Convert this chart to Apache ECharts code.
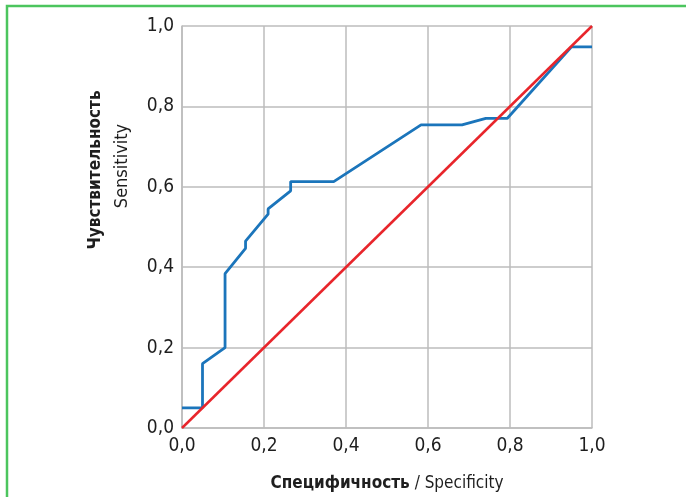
<!DOCTYPE html>
<html>
<head>
<meta charset="utf-8">
<script src="https://cdn.jsdelivr.net/npm/echarts@6/dist/echarts.min.js"></script>
<style>
  html, body { margin: 0; padding: 0; background: #fff; }
  #chart { width: 686px; height: 497px; }
</style>
</head>
<body>
<div id="chart"></div>
<script>
// ROC curve points (1 - specificity on x, sensitivity on y)
var specificity = [0, 0.05, 0.05, 0.105, 0.105, 0.155, 0.155, 0.21, 0.21, 0.265, 0.265, 0.37, 0.583, 0.683, 0.741, 0.793, 0.95, 1.0];
var sensitivity = [0.05, 0.05, 0.16, 0.20, 0.384, 0.447, 0.465, 0.532, 0.545, 0.59, 0.613, 0.613, 0.754, 0.754, 0.77, 0.77, 0.948, 0.948];
var diagX = [0, 1];
var diagY = [0, 1];

var roc = specificity.map(function (v, i) { return [v, sensitivity[i]]; });
var diag = diagX.map(function (v, i) { return [v, diagY[i]]; });

var fontName = '"Liberation Sans Narrow", "DejaVu Sans Condensed", sans-serif';
var grey = '#bcbcbc';
var ink = '#1e1e1e';

function fmt(v) { return v.toFixed(1).replace('.', ','); }

var myChart = echarts.init(document.getElementById('chart'));

var option = {
    animation: false,
    grid: { left: 182, right: 94, top: 26, bottom: 62 },
    xAxis: {
        type: 'value', min: 0, max: 1, interval: 0.2,
        axisLine: { show: true, lineStyle: { color: grey, width: 1.5 } },
        axisTick: { show: false },
        splitLine: { show: true, lineStyle: { color: grey, width: 1.5 } },
        axisLabel: { margin: 9, fontFamily: fontName, fontSize: 19, color: ink, formatter: fmt },
        name: '{b|Специфичность}{n| / Specificity}',
        nameLocation: 'middle', nameGap: 47,
        nameTextStyle: {
            rich: {
                b: { fontFamily: fontName, fontSize: 17, fontWeight: 'bold', color: ink },
                n: { fontFamily: fontName, fontSize: 17, color: ink }
            }
        }
    },
    yAxis: {
        type: 'value', min: 0, max: 1, interval: 0.2,
        axisLine: { show: true, lineStyle: { color: grey, width: 1.5 } },
        axisTick: { show: false },
        splitLine: { show: true, lineStyle: { color: grey, width: 1.5 } },
        axisLabel: { margin: 8, fontFamily: fontName, fontSize: 19, color: ink, formatter: fmt }
    },
    graphic: [
        {
            type: 'polyline', silent: true,
            shape: { points: [[7, 497], [7, 6], [686, 6]] },
            style: { stroke: '#4cc55e', lineWidth: 2.5, fill: null }
        },
        {
            type: 'text', x: 96, y: 170, rotation: Math.PI / 2,
            style: {
                text: 'Чувствительность', fontFamily: fontName, fontSize: 17, fontWeight: 'bold',
                fill: ink, align: 'center', verticalAlign: 'middle'
            }
        },
        {
            type: 'text', x: 122, y: 166, rotation: Math.PI / 2,
            style: {
                text: 'Sensitivity', fontFamily: fontName, fontSize: 18,
                fill: ink, align: 'center', verticalAlign: 'middle'
            }
        }
    ],
    series: [
        {
            type: 'line', data: diag, symbol: 'none', z: 3,
            lineStyle: { color: '#e8252b', width: 2.5 }
        },
        {
            type: 'line', data: roc, symbol: 'none', z: 2,
            lineStyle: { color: '#1b75bb', width: 2.8 }
        }
    ]
};

myChart.setOption(option);
</script>
</body>
</html>
